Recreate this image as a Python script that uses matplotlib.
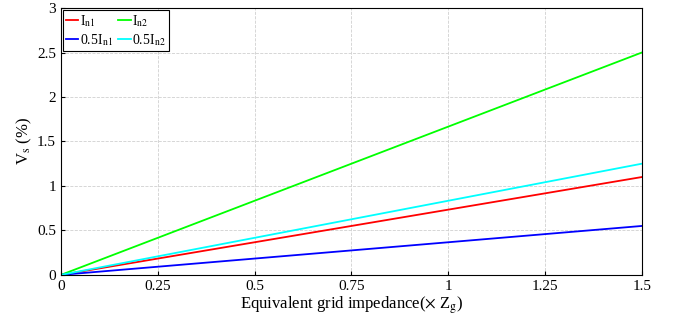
import matplotlib
matplotlib.use("Agg")
import matplotlib.pyplot as plt

plt.rcParams['font.family'] = ['Liberation Serif', 'DejaVu Serif']
plt.rcParams['mathtext.fontset'] = 'stix'

# impedance (x Zg) and Vs (%) at both ends of each line
z = [0, 1.5]
vs_in1 = [0, 1.1]
vs_in2 = [0, 2.5]
vs_half_in1 = [0, 0.55]
vs_half_in2 = [0, 1.25]

xticks = [0, 0.25, 0.5, 0.75, 1, 1.25, 1.5]
xticklabels = ['0', '0.25', '0.5', '0.75', '1', '1.25', '1.5']
yticks = [0, 0.5, 1, 1.5, 2, 2.5, 3]
yticklabels = ['0', '0.5', '1', '1.5', '2', '2.5', '3']

fig = plt.figure(figsize=(6.73, 3.23), dpi=100)
ax = fig.add_axes([0.0906, 0.149, 0.863, 0.826])

l1, = ax.plot(z, vs_in1, color='#ff0000', lw=1.3, label=r'I$_{\rm n1}$')
l2, = ax.plot(z, vs_in2, color='#00ff00', lw=1.3, label=r'I$_{\rm n2}$')
l3, = ax.plot(z, vs_half_in1, color='#0000ff', lw=1.3, label=r'0.5I$_{\rm n1}$')
l4, = ax.plot(z, vs_half_in2, color='#00ffff', lw=1.3, label=r'0.5I$_{\rm n2}$')

ax.set_xlim(0, 1.5)
ax.set_ylim(0, 3)
ax.set_xticks(xticks)
ax.set_xticklabels(xticklabels)
ax.set_yticks(yticks)
ax.set_yticklabels(yticklabels)
ax.tick_params(direction='in', labelsize=11, length=3)
ax.grid(True, linestyle='--', color='#d0d0d0', lw=0.6)

ax.set_xlabel(r'Equivalent grid impedance($\times$ Z$_{\rm g}$)', fontsize=12, labelpad=1)
ax.set_ylabel(r'V$_{\rm s}$ (%)', fontsize=12, labelpad=2)

# matplotlib fills legend columns first, so order for rows In1/In2, 0.5In1/0.5In2
leg = ax.legend([l1, l3, l2, l4], [l.get_label() for l in (l1, l3, l2, l4)],
                loc='upper left', ncol=2, fontsize=10, handlelength=0.9,
                handletextpad=0.1, columnspacing=0.4, borderpad=0.2,
                labelspacing=0.25, fancybox=False, framealpha=1,
                borderaxespad=0.15)
leg.get_frame().set_edgecolor('black')
leg.get_frame().set_linewidth(0.8)

fig.savefig('out.png', dpi=100)
